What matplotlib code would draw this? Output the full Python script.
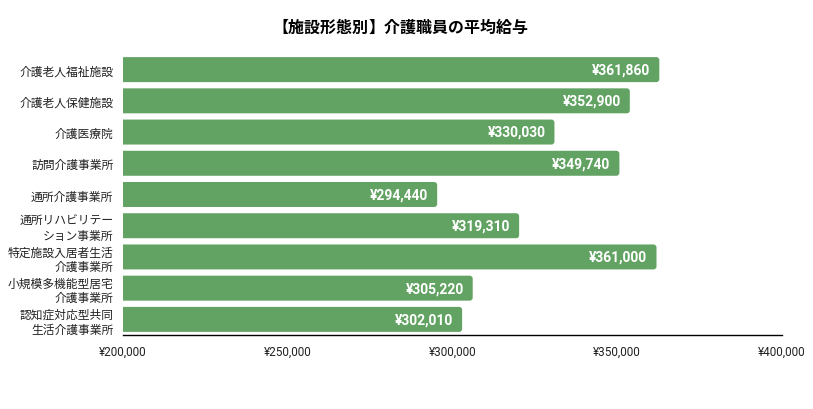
import matplotlib
matplotlib.use("Agg")
import matplotlib.pyplot as plt
from matplotlib.patches import FancyBboxPatch
from matplotlib.ticker import FuncFormatter

categories = [
    "介護老人福祉施設",
    "介護老人保健施設",
    "介護医療院",
    "訪問介護事業所",
    "通所介護事業所",
    "通所リハビリテー\nション事業所",
    "特定施設入居者生活\n介護事業所",
    "小規模多機能型居宅\n介護事業所",
    "認知症対応型共同\n生活介護事業所",
]
salaries = [361860, 352900, 330030, 349740, 294440, 319310, 361000, 305220, 302010]
xticks = [200000, 250000, 300000, 350000, 400000]
title_parts = ["【施設形態別", "】介護職員の平均給与"]

W, H = 813, 410
fig = plt.figure(figsize=(W / 100, H / 100), dpi=100)
ax = fig.add_axes([123 / W, (H - 336) / H, (782 - 123) / W, (336 - 55) / H])

color = "#62A363"
ypos = list(range(len(categories)))
bars = ax.barh(ypos, salaries, height=0.8, color=color, left=0)
ax.set_xlim(xticks[0], xticks[-1])
ax.set_ylim(len(categories) - 0.5, -0.5)

# rounded right ends
px_x = (xticks[-1] - xticks[0]) / (782 - 123)
px_y = len(categories) / (336 - 55)
ext = 3 * px_x
for b in bars:
    b.set_visible(False)
    x0, y0 = b.get_x(), b.get_y()
    w, h = b.get_width(), b.get_height()
    r = 3 * px_x
    p = FancyBboxPatch((x0, y0), w + ext, h,
                       boxstyle=f"round,pad=0,rounding_size={r}",
                       mutation_aspect=px_y / px_x,
                       facecolor=color, edgecolor="none", clip_on=True)
    ax.add_patch(p)
    p.set_clip_path(ax.patch)

for yi, v in zip(ypos, salaries):
    ax.text(v + ext - 9 * px_x, yi, f"¥{v:,}", ha="right", va="center",
            color="white", fontsize=10, fontweight="bold",
            family=["Roboto", "DejaVu Sans"])

ax.set_yticks(ypos)
ax.set_yticklabels(categories, fontsize=8.5,
                   family=["Noto Sans CJK JP", "DejaVu Sans"], linespacing=1.15)
ax.set_xticks(xticks)
ax.xaxis.set_major_formatter(FuncFormatter(lambda v, p: f"¥{int(v):,}"))
for lbl in ax.get_xticklabels():
    lbl.set_fontfamily(["Roboto", "DejaVu Sans"])
    lbl.set_fontsize(8.5)
ax.tick_params(axis="x", length=0, pad=7, colors="#222222")
ax.tick_params(axis="y", length=0, pad=7, colors="#222222")

for s in ["top", "right", "left"]:
    ax.spines[s].set_visible(False)
ax.spines["bottom"].set_color("black")
ax.spines["bottom"].set_linewidth(1)

# title (split so the opening bracket sits tight like the reference)
em = 16.0
title_fs = em / (100 / 72)
base_y = 33
fig.text(272 / W, (H - base_y) / H, title_parts[0], ha="left", va="baseline",
         fontsize=title_fs, fontweight="bold",
         family=["Noto Sans CJK JP", "DejaVu Sans"], color="black")
fig.text(369 / W, (H - base_y) / H, title_parts[1], ha="left", va="baseline",
         fontsize=title_fs, fontweight="bold",
         family=["Noto Sans CJK JP", "DejaVu Sans"], color="black")

fig.savefig("out.png", dpi=100, facecolor="white")
